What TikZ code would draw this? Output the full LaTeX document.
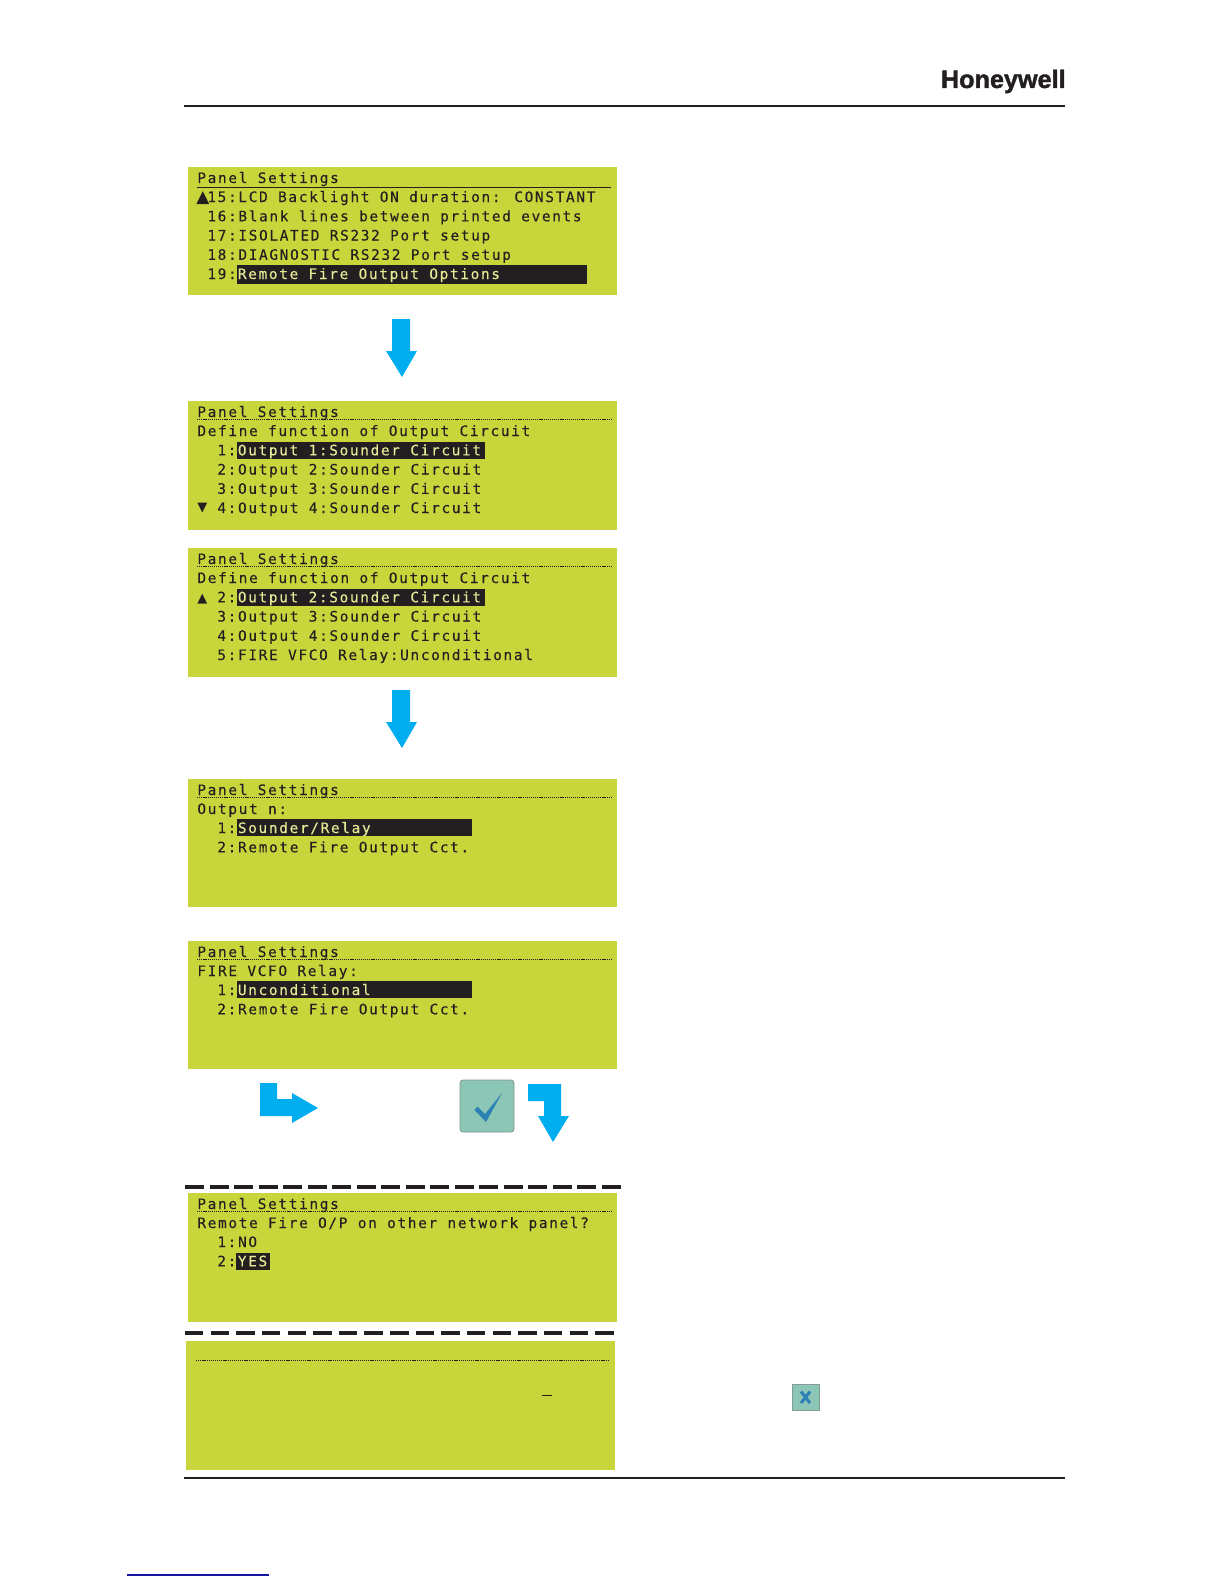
\documentclass[tikz,border=0pt]{standalone}
\usepackage{fontspec}
\usepackage{xcolor}
\setmainfont{Liberation Sans}
\newfontfamily\lcdfont[LetterSpace=11.6,FakeBold=0.15]{DejaVu Sans Mono}
\newfontfamily\logofont[FakeBold=1.6]{Liberation Sans Bold}
\newfontfamily\symfont{DejaVu Sans}
\definecolor{lcdgreen}{HTML}{C8D63C}
\definecolor{lcdink}{HTML}{231F20}
\definecolor{lcdpale}{HTML}{E6EA96}
\definecolor{arrowblue}{HTML}{00AEEF}
\definecolor{btnteal}{HTML}{8CC6B6}
\definecolor{btnblue}{HTML}{2B80B4}
\definecolor{linkblue}{HTML}{1414A0}
\tikzset{
  lcdscreen/.style={fill=lcdgreen},
  lcdtext/.style={anchor=base west,inner sep=0pt,text=lcdink,font=\lcdfont\fontsize{7.2}{8}\selectfont},
  lcdsel/.style={lcdtext,text=lcdpale},
  lcdbar/.style={fill=lcdink},
  lcdrule/.style={lcdink,line width=0.45pt,dash pattern=on 0.6pt off 0.45pt},
  flowarrow/.style={fill=arrowblue},
  pagerule/.style={lcdink,line width=1.2pt},
  cutline/.style={lcdink,line width=2pt},
}

\begin{document}
\begin{tikzpicture}[x=0.5pt,y=-0.5pt]
\useasboundingbox (0,0) rectangle (1224,1584);
% page header and footer
\node[anchor=base east,inner sep=0pt,text=lcdink,font=\logofont\fontsize{12.6}{14}\selectfont] (logo) at (1066,88) {Honeywell};
\draw[pagerule] (184,106) -- (1065,106);
\draw[pagerule] (184,1478) -- (1065,1478);
\draw[linkblue,line width=0.7pt] (127,1575) -- (269,1575);

% screen 1
\fill[lcdscreen] (188,167) rectangle (617,295);
\draw[lcdink,line width=0.4pt] (197,187.5) -- (611,187.5);
\fill[lcdbar] (237,265) rectangle (587,284);
\node[lcdtext] (aTitle) at (197,183) {Panel Settings};
\node[anchor=base west,inner sep=0pt,text=lcdink,font=\symfont\fontsize{8.5}{9}\selectfont] (aUp) at (196,202) {▲};
\node[lcdtext] (aRow1) at (207,202) {15:LCD Backlight ON duration: CONSTANT};
\node[lcdtext] (aRow2) at (207,221.3) {16:Blank lines between printed events};
\node[lcdtext] (aRow3) at (207,240.5) {17:ISOLATED RS232 Port setup};
\node[lcdtext] (aRow4) at (207,259.8) {18:DIAGNOSTIC RS232 Port setup};
\node[lcdtext] (aRow5) at (207,279) {19:};
\node[lcdsel] (aSel) at (237.5,279) {Remote Fire Output Options};

\fill[flowarrow] (392,319) -- (410,319) -- (410,351) -- (417,351) -- (402,377) -- (386,351) -- (392,351) -- cycle;

% screen 2
\fill[lcdscreen] (188,401) rectangle (617,530);
\draw[lcdrule] (197,419.5) -- (611,419.5);
\fill[lcdbar] (237,441.5) rectangle (485,459);
\node[lcdtext] (bTitle) at (197,417) {Panel Settings};
\node[lcdtext] (bHead) at (197,436) {Define function of Output Circuit};
\node[lcdtext] (bRow1) at (217,455.3) {1:};
\node[lcdsel] (bSel) at (237.5,455.3) {Output 1:Sounder Circuit};
\node[lcdtext] (bRow2) at (217,474.5) {2:Output 2:Sounder Circuit};
\node[lcdtext] (bRow3) at (217,493.8) {3:Output 3:Sounder Circuit};
\node[lcdtext] (bRow4) at (217,513) {4:Output 4:Sounder Circuit};
\node[anchor=base west,inner sep=0pt,text=lcdink,font=\symfont\fontsize{6.5}{8}\selectfont] (bDown) at (197,511) {▼};

% screen 3
\fill[lcdscreen] (188,548) rectangle (617,677);
\draw[lcdrule] (197,566.5) -- (611,566.5);
\fill[lcdbar] (237,589) rectangle (485,606);
\node[lcdtext] (cTitle) at (197,564) {Panel Settings};
\node[lcdtext] (cHead) at (197,583) {Define function of Output Circuit};
\node[anchor=base west,inner sep=0pt,text=lcdink,font=\symfont\fontsize{6.5}{8}\selectfont] (cUp) at (197,602) {▲};
\node[lcdtext] (cRow1) at (217,602.3) {2:};
\node[lcdsel] (cSel) at (237.5,602.3) {Output 2:Sounder Circuit};
\node[lcdtext] (cRow2) at (217,621.5) {3:Output 3:Sounder Circuit};
\node[lcdtext] (cRow3) at (217,640.8) {4:Output 4:Sounder Circuit};
\node[lcdtext] (cRow4) at (217,660) {5:FIRE VFCO Relay:Unconditional};

\fill[flowarrow] (392,690) -- (410,690) -- (410,722) -- (417,722) -- (402,748) -- (386,722) -- (392,722) -- cycle;

% screen 4
\fill[lcdscreen] (188,779) rectangle (617,907);
\draw[lcdrule] (197,797.5) -- (611,797.5);
\fill[lcdbar] (237,819) rectangle (472,836);
\node[lcdtext] (dTitle) at (197,795) {Panel Settings};
\node[lcdtext] (dHead) at (197,814) {Output n:};
\node[lcdtext] (dRow1) at (217,833) {1:};
\node[lcdsel] (dSel) at (237.5,833) {Sounder/Relay};
\node[lcdtext] (dRow2) at (217,852.3) {2:Remote Fire Output Cct.};

% screen 5
\fill[lcdscreen] (188,941) rectangle (617,1069);
\draw[lcdrule] (197,959.5) -- (611,959.5);
\fill[lcdbar] (237,981) rectangle (472,998);
\node[lcdtext] (eTitle) at (197,957) {Panel Settings};
\node[lcdtext] (eHead) at (197,976) {FIRE VCFO Relay:};
\node[lcdtext] (eRow1) at (217,995) {1:};
\node[lcdsel] (eSel) at (237.5,995) {Unconditional};
\node[lcdtext] (eRow2) at (217,1014.3) {2:Remote Fire Output Cct.};

% arrows and tick key
\fill[flowarrow] (260,1083) -- (277,1083) -- (277,1099) -- (292,1099) -- (292,1093) -- (318,1108) -- (292,1123) -- (292,1116) -- (260,1116) -- cycle;
\draw[fill=btnteal,draw=gray!70!btnteal,line width=0.4pt,rounded corners=1.5pt] (460,1080) rectangle (514,1132);
\fill[btnblue] (474.5,1110) -- (477.5,1106.5) -- (485,1114) -- (502,1093) -- (486,1122) -- cycle;
\fill[flowarrow] (528,1084) -- (561,1084) -- (561,1116) -- (569,1116) -- (553,1142) -- (538,1116) -- (544,1116) -- (544,1101) -- (528,1101) -- cycle;

\draw[cutline,dash pattern=on 9.5pt off 2.76pt] (185,1187) -- (621,1187);

% screen 6
\fill[lcdscreen] (188,1193) rectangle (617,1322);
\draw[lcdrule] (197,1211.5) -- (611,1211.5);
\fill[lcdbar] (236,1253) rectangle (270,1270);
\node[lcdtext] (fTitle) at (197,1209) {Panel Settings};
\node[lcdtext] (fHead) at (197,1228) {Remote Fire O/P on other network panel?};
\node[lcdtext] (fRow1) at (217,1247) {1:NO};
\node[lcdtext] (fRow2) at (217,1266.3) {2:};
\node[lcdsel] (fSel) at (237.5,1266.3) {YES};

\draw[cutline,dash pattern=on 9.2pt off 3.62pt] (185,1333) -- (614,1333);

% screen 7
\fill[lcdscreen] (186,1341) rectangle (615,1470);
\draw[lcdrule] (196,1360) -- (609,1360);
\draw[lcdink,line width=0.4pt] (542,1395) -- (552,1395);

% cancel key
\draw[fill=btnteal,draw=gray!60!btnteal,line width=0.4pt] (792,1384) rectangle (819,1410);
\draw[btnblue,line width=1.5pt] (801,1391.5) -- (810,1403) (810,1391.5) -- (801,1403);
\end{tikzpicture}
\end{document}
